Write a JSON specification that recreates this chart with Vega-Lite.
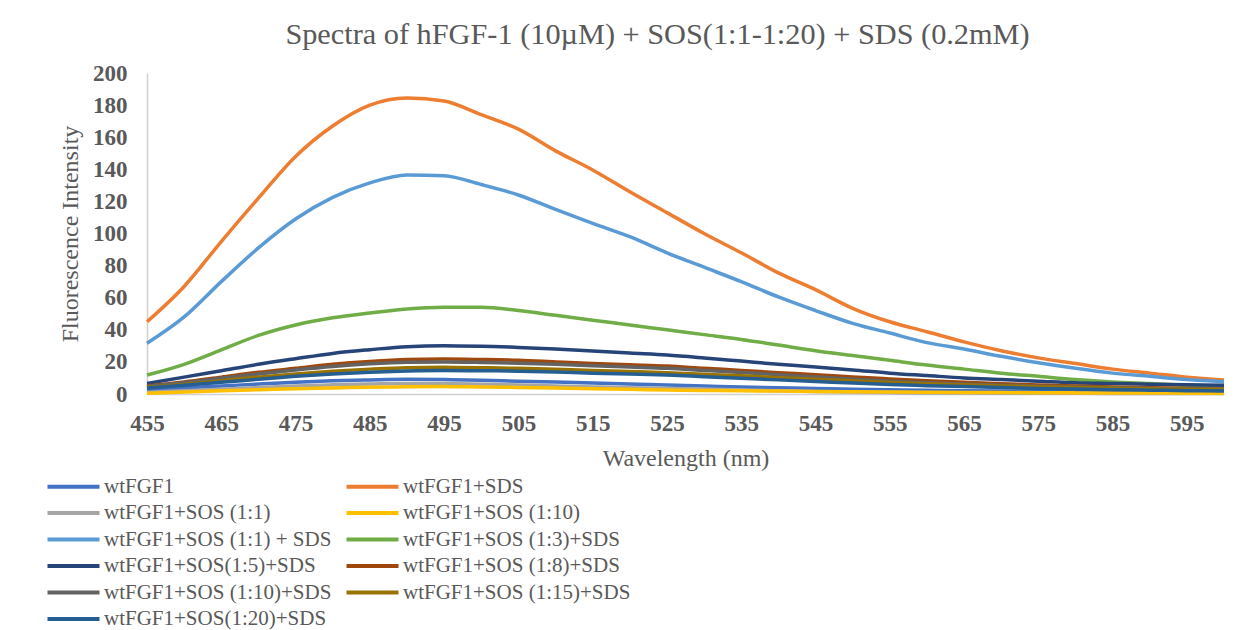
{
  "$schema": "https://vega.github.io/schema/vega-lite/v6.json",
  "width": 1077,
  "height": 321,
  "autosize": {"type": "none"},
  "padding": {"left": 147, "top": 73, "right": 20, "bottom": 236},
  "background": "white",
  "title": {
    "text": "Spectra of hFGF-1 (10µM) + SOS(1:1-1:20) + SDS (0.2mM)",
    "font": "Liberation Serif",
    "fontSize": 30.3,
    "fontWeight": "normal",
    "color": "#595959",
    "anchor": "middle",
    "frame": "group",
    "dx": -28,
    "offset": 12
  },
  "config": {"view": {"stroke": null}, "font": "Liberation Serif"},
  "data": {
    "values": [
      {"s":"wtFGF1","nm":455,"v":2.5},{"s":"wtFGF1","nm":460,"v":3.8},{"s":"wtFGF1","nm":465,"v":5},{"s":"wtFGF1","nm":470,"v":6.2},{"s":"wtFGF1","nm":475,"v":7.3},{"s":"wtFGF1","nm":480,"v":8.2},{"s":"wtFGF1","nm":485,"v":8.8},{"s":"wtFGF1","nm":490,"v":9.2},{"s":"wtFGF1","nm":495,"v":9},{"s":"wtFGF1","nm":500,"v":8.6},{"s":"wtFGF1","nm":505,"v":8},{"s":"wtFGF1","nm":510,"v":7.4},{"s":"wtFGF1","nm":515,"v":6.8},{"s":"wtFGF1","nm":520,"v":6.2},{"s":"wtFGF1","nm":525,"v":5.6},{"s":"wtFGF1","nm":530,"v":5},{"s":"wtFGF1","nm":535,"v":4.4},{"s":"wtFGF1","nm":540,"v":3.9},{"s":"wtFGF1","nm":545,"v":3.4},{"s":"wtFGF1","nm":550,"v":3},{"s":"wtFGF1","nm":555,"v":2.6},{"s":"wtFGF1","nm":560,"v":2.3},{"s":"wtFGF1","nm":565,"v":2},{"s":"wtFGF1","nm":570,"v":1.8},{"s":"wtFGF1","nm":575,"v":1.6},{"s":"wtFGF1","nm":580,"v":1.4},{"s":"wtFGF1","nm":585,"v":1.3},{"s":"wtFGF1","nm":590,"v":1.2},{"s":"wtFGF1","nm":595,"v":1.1},{"s":"wtFGF1","nm":600,"v":1},
      {"s":"wtFGF1+SDS","nm":455,"v":45},{"s":"wtFGF1+SDS","nm":460,"v":67},{"s":"wtFGF1+SDS","nm":465,"v":95},{"s":"wtFGF1+SDS","nm":470,"v":122},{"s":"wtFGF1+SDS","nm":475,"v":148},{"s":"wtFGF1+SDS","nm":480,"v":167},{"s":"wtFGF1+SDS","nm":485,"v":180},{"s":"wtFGF1+SDS","nm":490,"v":184.5},{"s":"wtFGF1+SDS","nm":495,"v":182.5},{"s":"wtFGF1+SDS","nm":500,"v":174},{"s":"wtFGF1+SDS","nm":505,"v":165},{"s":"wtFGF1+SDS","nm":510,"v":151.5},{"s":"wtFGF1+SDS","nm":515,"v":139.6},{"s":"wtFGF1+SDS","nm":520,"v":126},{"s":"wtFGF1+SDS","nm":525,"v":113},{"s":"wtFGF1+SDS","nm":530,"v":100},{"s":"wtFGF1+SDS","nm":535,"v":88},{"s":"wtFGF1+SDS","nm":540,"v":75.5},{"s":"wtFGF1+SDS","nm":545,"v":65},{"s":"wtFGF1+SDS","nm":550,"v":53.4},{"s":"wtFGF1+SDS","nm":555,"v":45},{"s":"wtFGF1+SDS","nm":560,"v":38.8},{"s":"wtFGF1+SDS","nm":565,"v":32.5},{"s":"wtFGF1+SDS","nm":570,"v":27},{"s":"wtFGF1+SDS","nm":575,"v":22.5},{"s":"wtFGF1+SDS","nm":580,"v":19},{"s":"wtFGF1+SDS","nm":585,"v":15.5},{"s":"wtFGF1+SDS","nm":590,"v":13},{"s":"wtFGF1+SDS","nm":595,"v":10.5},{"s":"wtFGF1+SDS","nm":600,"v":8.7},
      {"s":"wtFGF1+SOS (1:1)","nm":455,"v":1},{"s":"wtFGF1+SOS (1:1)","nm":460,"v":2},{"s":"wtFGF1+SOS (1:1)","nm":465,"v":3},{"s":"wtFGF1+SOS (1:1)","nm":470,"v":4},{"s":"wtFGF1+SOS (1:1)","nm":475,"v":5},{"s":"wtFGF1+SOS (1:1)","nm":480,"v":5.7},{"s":"wtFGF1+SOS (1:1)","nm":485,"v":6.2},{"s":"wtFGF1+SOS (1:1)","nm":490,"v":6.6},{"s":"wtFGF1+SOS (1:1)","nm":495,"v":6.5},{"s":"wtFGF1+SOS (1:1)","nm":500,"v":6.1},{"s":"wtFGF1+SOS (1:1)","nm":505,"v":5.6},{"s":"wtFGF1+SOS (1:1)","nm":510,"v":5},{"s":"wtFGF1+SOS (1:1)","nm":515,"v":4.4},{"s":"wtFGF1+SOS (1:1)","nm":520,"v":3.9},{"s":"wtFGF1+SOS (1:1)","nm":525,"v":3.5},{"s":"wtFGF1+SOS (1:1)","nm":530,"v":3},{"s":"wtFGF1+SOS (1:1)","nm":535,"v":2.5},{"s":"wtFGF1+SOS (1:1)","nm":540,"v":2},{"s":"wtFGF1+SOS (1:1)","nm":545,"v":1.6},{"s":"wtFGF1+SOS (1:1)","nm":550,"v":1.2},{"s":"wtFGF1+SOS (1:1)","nm":555,"v":0.9},{"s":"wtFGF1+SOS (1:1)","nm":560,"v":0.7},{"s":"wtFGF1+SOS (1:1)","nm":565,"v":0.6},{"s":"wtFGF1+SOS (1:1)","nm":570,"v":0.5},{"s":"wtFGF1+SOS (1:1)","nm":575,"v":0.4},{"s":"wtFGF1+SOS (1:1)","nm":580,"v":0.4},{"s":"wtFGF1+SOS (1:1)","nm":585,"v":0.3},{"s":"wtFGF1+SOS (1:1)","nm":590,"v":0.3},{"s":"wtFGF1+SOS (1:1)","nm":595,"v":0.3},{"s":"wtFGF1+SOS (1:1)","nm":600,"v":0.3},
      {"s":"wtFGF1+SOS (1:10)","nm":455,"v":0.4},{"s":"wtFGF1+SOS (1:10)","nm":460,"v":1.2},{"s":"wtFGF1+SOS (1:10)","nm":465,"v":2},{"s":"wtFGF1+SOS (1:10)","nm":470,"v":2.7},{"s":"wtFGF1+SOS (1:10)","nm":475,"v":3.3},{"s":"wtFGF1+SOS (1:10)","nm":480,"v":3.8},{"s":"wtFGF1+SOS (1:10)","nm":485,"v":4.2},{"s":"wtFGF1+SOS (1:10)","nm":490,"v":4.5},{"s":"wtFGF1+SOS (1:10)","nm":495,"v":4.6},{"s":"wtFGF1+SOS (1:10)","nm":500,"v":4.4},{"s":"wtFGF1+SOS (1:10)","nm":505,"v":4.1},{"s":"wtFGF1+SOS (1:10)","nm":510,"v":3.7},{"s":"wtFGF1+SOS (1:10)","nm":515,"v":3.3},{"s":"wtFGF1+SOS (1:10)","nm":520,"v":2.9},{"s":"wtFGF1+SOS (1:10)","nm":525,"v":2.5},{"s":"wtFGF1+SOS (1:10)","nm":530,"v":2.2},{"s":"wtFGF1+SOS (1:10)","nm":535,"v":2},{"s":"wtFGF1+SOS (1:10)","nm":540,"v":1.8},{"s":"wtFGF1+SOS (1:10)","nm":545,"v":1.6},{"s":"wtFGF1+SOS (1:10)","nm":550,"v":1.4},{"s":"wtFGF1+SOS (1:10)","nm":555,"v":1.2},{"s":"wtFGF1+SOS (1:10)","nm":560,"v":1.1},{"s":"wtFGF1+SOS (1:10)","nm":565,"v":1},{"s":"wtFGF1+SOS (1:10)","nm":570,"v":0.9},{"s":"wtFGF1+SOS (1:10)","nm":575,"v":0.8},{"s":"wtFGF1+SOS (1:10)","nm":580,"v":0.7},{"s":"wtFGF1+SOS (1:10)","nm":585,"v":0.6},{"s":"wtFGF1+SOS (1:10)","nm":590,"v":0.6},{"s":"wtFGF1+SOS (1:10)","nm":595,"v":0.5},{"s":"wtFGF1+SOS (1:10)","nm":600,"v":0.5},
      {"s":"wtFGF1+SOS (1:1) + SDS","nm":455,"v":31.6},{"s":"wtFGF1+SOS (1:1) + SDS","nm":460,"v":48},{"s":"wtFGF1+SOS (1:1) + SDS","nm":465,"v":70},{"s":"wtFGF1+SOS (1:1) + SDS","nm":470,"v":91},{"s":"wtFGF1+SOS (1:1) + SDS","nm":475,"v":109},{"s":"wtFGF1+SOS (1:1) + SDS","nm":480,"v":122.5},{"s":"wtFGF1+SOS (1:1) + SDS","nm":485,"v":131.5},{"s":"wtFGF1+SOS (1:1) + SDS","nm":490,"v":136.5},{"s":"wtFGF1+SOS (1:1) + SDS","nm":495,"v":136},{"s":"wtFGF1+SOS (1:1) + SDS","nm":500,"v":130.5},{"s":"wtFGF1+SOS (1:1) + SDS","nm":505,"v":124},{"s":"wtFGF1+SOS (1:1) + SDS","nm":510,"v":115},{"s":"wtFGF1+SOS (1:1) + SDS","nm":515,"v":106.3},{"s":"wtFGF1+SOS (1:1) + SDS","nm":520,"v":98},{"s":"wtFGF1+SOS (1:1) + SDS","nm":525,"v":88},{"s":"wtFGF1+SOS (1:1) + SDS","nm":530,"v":79},{"s":"wtFGF1+SOS (1:1) + SDS","nm":535,"v":70},{"s":"wtFGF1+SOS (1:1) + SDS","nm":540,"v":60.5},{"s":"wtFGF1+SOS (1:1) + SDS","nm":545,"v":52},{"s":"wtFGF1+SOS (1:1) + SDS","nm":550,"v":44},{"s":"wtFGF1+SOS (1:1) + SDS","nm":555,"v":38},{"s":"wtFGF1+SOS (1:1) + SDS","nm":560,"v":32},{"s":"wtFGF1+SOS (1:1) + SDS","nm":565,"v":28},{"s":"wtFGF1+SOS (1:1) + SDS","nm":570,"v":23.5},{"s":"wtFGF1+SOS (1:1) + SDS","nm":575,"v":19.5},{"s":"wtFGF1+SOS (1:1) + SDS","nm":580,"v":16},{"s":"wtFGF1+SOS (1:1) + SDS","nm":585,"v":13},{"s":"wtFGF1+SOS (1:1) + SDS","nm":590,"v":11},{"s":"wtFGF1+SOS (1:1) + SDS","nm":595,"v":9},{"s":"wtFGF1+SOS (1:1) + SDS","nm":600,"v":7.7},
      {"s":"wtFGF1+SOS (1:3)+SDS","nm":455,"v":11.8},{"s":"wtFGF1+SOS (1:3)+SDS","nm":460,"v":18.5},{"s":"wtFGF1+SOS (1:3)+SDS","nm":465,"v":27.5},{"s":"wtFGF1+SOS (1:3)+SDS","nm":470,"v":36.5},{"s":"wtFGF1+SOS (1:3)+SDS","nm":475,"v":43},{"s":"wtFGF1+SOS (1:3)+SDS","nm":480,"v":47.5},{"s":"wtFGF1+SOS (1:3)+SDS","nm":485,"v":50.5},{"s":"wtFGF1+SOS (1:3)+SDS","nm":490,"v":53},{"s":"wtFGF1+SOS (1:3)+SDS","nm":495,"v":54},{"s":"wtFGF1+SOS (1:3)+SDS","nm":500,"v":54},{"s":"wtFGF1+SOS (1:3)+SDS","nm":505,"v":52},{"s":"wtFGF1+SOS (1:3)+SDS","nm":510,"v":49},{"s":"wtFGF1+SOS (1:3)+SDS","nm":515,"v":46},{"s":"wtFGF1+SOS (1:3)+SDS","nm":520,"v":43},{"s":"wtFGF1+SOS (1:3)+SDS","nm":525,"v":40},{"s":"wtFGF1+SOS (1:3)+SDS","nm":530,"v":37},{"s":"wtFGF1+SOS (1:3)+SDS","nm":535,"v":34},{"s":"wtFGF1+SOS (1:3)+SDS","nm":540,"v":30.5},{"s":"wtFGF1+SOS (1:3)+SDS","nm":545,"v":27},{"s":"wtFGF1+SOS (1:3)+SDS","nm":550,"v":24},{"s":"wtFGF1+SOS (1:3)+SDS","nm":555,"v":21},{"s":"wtFGF1+SOS (1:3)+SDS","nm":560,"v":18},{"s":"wtFGF1+SOS (1:3)+SDS","nm":565,"v":15.5},{"s":"wtFGF1+SOS (1:3)+SDS","nm":570,"v":13},{"s":"wtFGF1+SOS (1:3)+SDS","nm":575,"v":11},{"s":"wtFGF1+SOS (1:3)+SDS","nm":580,"v":9},{"s":"wtFGF1+SOS (1:3)+SDS","nm":585,"v":7.5},{"s":"wtFGF1+SOS (1:3)+SDS","nm":590,"v":6.5},{"s":"wtFGF1+SOS (1:3)+SDS","nm":595,"v":5.5},{"s":"wtFGF1+SOS (1:3)+SDS","nm":600,"v":4.8},
      {"s":"wtFGF1+SOS(1:5)+SDS","nm":455,"v":6.6},{"s":"wtFGF1+SOS(1:5)+SDS","nm":460,"v":10.5},{"s":"wtFGF1+SOS(1:5)+SDS","nm":465,"v":14.5},{"s":"wtFGF1+SOS(1:5)+SDS","nm":470,"v":18.5},{"s":"wtFGF1+SOS(1:5)+SDS","nm":475,"v":22},{"s":"wtFGF1+SOS(1:5)+SDS","nm":480,"v":25.3},{"s":"wtFGF1+SOS(1:5)+SDS","nm":485,"v":27.6},{"s":"wtFGF1+SOS(1:5)+SDS","nm":490,"v":29.5},{"s":"wtFGF1+SOS(1:5)+SDS","nm":495,"v":30},{"s":"wtFGF1+SOS(1:5)+SDS","nm":500,"v":29.8},{"s":"wtFGF1+SOS(1:5)+SDS","nm":505,"v":29},{"s":"wtFGF1+SOS(1:5)+SDS","nm":510,"v":28},{"s":"wtFGF1+SOS(1:5)+SDS","nm":515,"v":26.8},{"s":"wtFGF1+SOS(1:5)+SDS","nm":520,"v":25.5},{"s":"wtFGF1+SOS(1:5)+SDS","nm":525,"v":24.3},{"s":"wtFGF1+SOS(1:5)+SDS","nm":530,"v":22.5},{"s":"wtFGF1+SOS(1:5)+SDS","nm":535,"v":20.5},{"s":"wtFGF1+SOS(1:5)+SDS","nm":540,"v":18.5},{"s":"wtFGF1+SOS(1:5)+SDS","nm":545,"v":16.8},{"s":"wtFGF1+SOS(1:5)+SDS","nm":550,"v":15},{"s":"wtFGF1+SOS(1:5)+SDS","nm":555,"v":13},{"s":"wtFGF1+SOS(1:5)+SDS","nm":560,"v":11.5},{"s":"wtFGF1+SOS(1:5)+SDS","nm":565,"v":10},{"s":"wtFGF1+SOS(1:5)+SDS","nm":570,"v":9},{"s":"wtFGF1+SOS(1:5)+SDS","nm":575,"v":8},{"s":"wtFGF1+SOS(1:5)+SDS","nm":580,"v":7},{"s":"wtFGF1+SOS(1:5)+SDS","nm":585,"v":6.5},{"s":"wtFGF1+SOS(1:5)+SDS","nm":590,"v":6},{"s":"wtFGF1+SOS(1:5)+SDS","nm":595,"v":5.7},{"s":"wtFGF1+SOS(1:5)+SDS","nm":600,"v":5.5},
      {"s":"wtFGF1+SOS (1:8)+SDS","nm":455,"v":5},{"s":"wtFGF1+SOS (1:8)+SDS","nm":460,"v":7.5},{"s":"wtFGF1+SOS (1:8)+SDS","nm":465,"v":10.5},{"s":"wtFGF1+SOS (1:8)+SDS","nm":470,"v":13.5},{"s":"wtFGF1+SOS (1:8)+SDS","nm":475,"v":16},{"s":"wtFGF1+SOS (1:8)+SDS","nm":480,"v":18.5},{"s":"wtFGF1+SOS (1:8)+SDS","nm":485,"v":20.3},{"s":"wtFGF1+SOS (1:8)+SDS","nm":490,"v":21.5},{"s":"wtFGF1+SOS (1:8)+SDS","nm":495,"v":21.8},{"s":"wtFGF1+SOS (1:8)+SDS","nm":500,"v":21.5},{"s":"wtFGF1+SOS (1:8)+SDS","nm":505,"v":21},{"s":"wtFGF1+SOS (1:8)+SDS","nm":510,"v":20},{"s":"wtFGF1+SOS (1:8)+SDS","nm":515,"v":19},{"s":"wtFGF1+SOS (1:8)+SDS","nm":520,"v":18.2},{"s":"wtFGF1+SOS (1:8)+SDS","nm":525,"v":17.4},{"s":"wtFGF1+SOS (1:8)+SDS","nm":530,"v":16},{"s":"wtFGF1+SOS (1:8)+SDS","nm":535,"v":14.7},{"s":"wtFGF1+SOS (1:8)+SDS","nm":540,"v":13.3},{"s":"wtFGF1+SOS (1:8)+SDS","nm":545,"v":12},{"s":"wtFGF1+SOS (1:8)+SDS","nm":550,"v":10.6},{"s":"wtFGF1+SOS (1:8)+SDS","nm":555,"v":9.4},{"s":"wtFGF1+SOS (1:8)+SDS","nm":560,"v":8.3},{"s":"wtFGF1+SOS (1:8)+SDS","nm":565,"v":7.3},{"s":"wtFGF1+SOS (1:8)+SDS","nm":570,"v":6.4},{"s":"wtFGF1+SOS (1:8)+SDS","nm":575,"v":5.6},{"s":"wtFGF1+SOS (1:8)+SDS","nm":580,"v":5},{"s":"wtFGF1+SOS (1:8)+SDS","nm":585,"v":4.4},{"s":"wtFGF1+SOS (1:8)+SDS","nm":590,"v":3.9},{"s":"wtFGF1+SOS (1:8)+SDS","nm":595,"v":3.4},{"s":"wtFGF1+SOS (1:8)+SDS","nm":600,"v":3},
      {"s":"wtFGF1+SOS (1:10)+SDS","nm":455,"v":4.8},{"s":"wtFGF1+SOS (1:10)+SDS","nm":460,"v":7},{"s":"wtFGF1+SOS (1:10)+SDS","nm":465,"v":9.8},{"s":"wtFGF1+SOS (1:10)+SDS","nm":470,"v":12.5},{"s":"wtFGF1+SOS (1:10)+SDS","nm":475,"v":15},{"s":"wtFGF1+SOS (1:10)+SDS","nm":480,"v":17.2},{"s":"wtFGF1+SOS (1:10)+SDS","nm":485,"v":18.8},{"s":"wtFGF1+SOS (1:10)+SDS","nm":490,"v":19.8},{"s":"wtFGF1+SOS (1:10)+SDS","nm":495,"v":20},{"s":"wtFGF1+SOS (1:10)+SDS","nm":500,"v":19.7},{"s":"wtFGF1+SOS (1:10)+SDS","nm":505,"v":19.2},{"s":"wtFGF1+SOS (1:10)+SDS","nm":510,"v":18.5},{"s":"wtFGF1+SOS (1:10)+SDS","nm":515,"v":17.6},{"s":"wtFGF1+SOS (1:10)+SDS","nm":520,"v":16.8},{"s":"wtFGF1+SOS (1:10)+SDS","nm":525,"v":16},{"s":"wtFGF1+SOS (1:10)+SDS","nm":530,"v":14.7},{"s":"wtFGF1+SOS (1:10)+SDS","nm":535,"v":13.4},{"s":"wtFGF1+SOS (1:10)+SDS","nm":540,"v":12},{"s":"wtFGF1+SOS (1:10)+SDS","nm":545,"v":10.6},{"s":"wtFGF1+SOS (1:10)+SDS","nm":550,"v":9.2},{"s":"wtFGF1+SOS (1:10)+SDS","nm":555,"v":8},{"s":"wtFGF1+SOS (1:10)+SDS","nm":560,"v":7},{"s":"wtFGF1+SOS (1:10)+SDS","nm":565,"v":6.2},{"s":"wtFGF1+SOS (1:10)+SDS","nm":570,"v":5.5},{"s":"wtFGF1+SOS (1:10)+SDS","nm":575,"v":4.9},{"s":"wtFGF1+SOS (1:10)+SDS","nm":580,"v":4.4},{"s":"wtFGF1+SOS (1:10)+SDS","nm":585,"v":3.9},{"s":"wtFGF1+SOS (1:10)+SDS","nm":590,"v":3.5},{"s":"wtFGF1+SOS (1:10)+SDS","nm":595,"v":3.1},{"s":"wtFGF1+SOS (1:10)+SDS","nm":600,"v":2.8},
      {"s":"wtFGF1+SOS (1:15)+SDS","nm":455,"v":4.2},{"s":"wtFGF1+SOS (1:15)+SDS","nm":460,"v":6},{"s":"wtFGF1+SOS (1:15)+SDS","nm":465,"v":8.3},{"s":"wtFGF1+SOS (1:15)+SDS","nm":470,"v":10.5},{"s":"wtFGF1+SOS (1:15)+SDS","nm":475,"v":12.5},{"s":"wtFGF1+SOS (1:15)+SDS","nm":480,"v":14.2},{"s":"wtFGF1+SOS (1:15)+SDS","nm":485,"v":15.5},{"s":"wtFGF1+SOS (1:15)+SDS","nm":490,"v":16.4},{"s":"wtFGF1+SOS (1:15)+SDS","nm":495,"v":16.6},{"s":"wtFGF1+SOS (1:15)+SDS","nm":500,"v":16.4},{"s":"wtFGF1+SOS (1:15)+SDS","nm":505,"v":16},{"s":"wtFGF1+SOS (1:15)+SDS","nm":510,"v":15.4},{"s":"wtFGF1+SOS (1:15)+SDS","nm":515,"v":14.7},{"s":"wtFGF1+SOS (1:15)+SDS","nm":520,"v":14},{"s":"wtFGF1+SOS (1:15)+SDS","nm":525,"v":13.3},{"s":"wtFGF1+SOS (1:15)+SDS","nm":530,"v":12.3},{"s":"wtFGF1+SOS (1:15)+SDS","nm":535,"v":11.3},{"s":"wtFGF1+SOS (1:15)+SDS","nm":540,"v":10.2},{"s":"wtFGF1+SOS (1:15)+SDS","nm":545,"v":9.2},{"s":"wtFGF1+SOS (1:15)+SDS","nm":550,"v":8.2},{"s":"wtFGF1+SOS (1:15)+SDS","nm":555,"v":7.2},{"s":"wtFGF1+SOS (1:15)+SDS","nm":560,"v":6.4},{"s":"wtFGF1+SOS (1:15)+SDS","nm":565,"v":5.7},{"s":"wtFGF1+SOS (1:15)+SDS","nm":570,"v":5},{"s":"wtFGF1+SOS (1:15)+SDS","nm":575,"v":4.5},{"s":"wtFGF1+SOS (1:15)+SDS","nm":580,"v":4},{"s":"wtFGF1+SOS (1:15)+SDS","nm":585,"v":3.6},{"s":"wtFGF1+SOS (1:15)+SDS","nm":590,"v":3.2},{"s":"wtFGF1+SOS (1:15)+SDS","nm":595,"v":2.9},{"s":"wtFGF1+SOS (1:15)+SDS","nm":600,"v":2.6},
      {"s":"wtFGF1+SOS(1:20)+SDS","nm":455,"v":3.8},{"s":"wtFGF1+SOS(1:20)+SDS","nm":460,"v":5.5},{"s":"wtFGF1+SOS(1:20)+SDS","nm":465,"v":7.3},{"s":"wtFGF1+SOS(1:20)+SDS","nm":470,"v":9.2},{"s":"wtFGF1+SOS(1:20)+SDS","nm":475,"v":11},{"s":"wtFGF1+SOS(1:20)+SDS","nm":480,"v":12.5},{"s":"wtFGF1+SOS(1:20)+SDS","nm":485,"v":13.6},{"s":"wtFGF1+SOS(1:20)+SDS","nm":490,"v":14.3},{"s":"wtFGF1+SOS(1:20)+SDS","nm":495,"v":14.6},{"s":"wtFGF1+SOS(1:20)+SDS","nm":500,"v":14.5},{"s":"wtFGF1+SOS(1:20)+SDS","nm":505,"v":14.2},{"s":"wtFGF1+SOS(1:20)+SDS","nm":510,"v":13.7},{"s":"wtFGF1+SOS(1:20)+SDS","nm":515,"v":13},{"s":"wtFGF1+SOS(1:20)+SDS","nm":520,"v":12.4},{"s":"wtFGF1+SOS(1:20)+SDS","nm":525,"v":11.8},{"s":"wtFGF1+SOS(1:20)+SDS","nm":530,"v":10.8},{"s":"wtFGF1+SOS(1:20)+SDS","nm":535,"v":9.8},{"s":"wtFGF1+SOS(1:20)+SDS","nm":540,"v":8.8},{"s":"wtFGF1+SOS(1:20)+SDS","nm":545,"v":7.8},{"s":"wtFGF1+SOS(1:20)+SDS","nm":550,"v":6.8},{"s":"wtFGF1+SOS(1:20)+SDS","nm":555,"v":5.9},{"s":"wtFGF1+SOS(1:20)+SDS","nm":560,"v":5.2},{"s":"wtFGF1+SOS(1:20)+SDS","nm":565,"v":4.6},{"s":"wtFGF1+SOS(1:20)+SDS","nm":570,"v":4},{"s":"wtFGF1+SOS(1:20)+SDS","nm":575,"v":3.5},{"s":"wtFGF1+SOS(1:20)+SDS","nm":580,"v":3.1},{"s":"wtFGF1+SOS(1:20)+SDS","nm":585,"v":2.7},{"s":"wtFGF1+SOS(1:20)+SDS","nm":590,"v":2.4},{"s":"wtFGF1+SOS(1:20)+SDS","nm":595,"v":2.1},{"s":"wtFGF1+SOS(1:20)+SDS","nm":600,"v":1.9}
    ]
  },
  "mark": {"type": "line", "strokeWidth": 3.5, "interpolate": "monotone"},
  "encoding": {
    "x": {
      "field": "nm",
      "type": "quantitative",
      "scale": {"domain": [455, 600], "nice": false, "zero": false},
      "axis": {
        "values": [455, 465, 475, 485, 495, 505, 515, 525, 535, 545, 555, 565, 575, 585, 595],
        "title": "Wavelength (nm)",
        "titleFont": "Liberation Serif",
        "titleFontSize": 24,
        "titleFontWeight": "normal",
        "titleColor": "#595959",
        "titlePadding": 11,
        "labelFont": "Liberation Serif",
        "labelFontSize": 23,
        "labelFontWeight": "bold",
        "labelColor": "#595959",
        "labelPadding": 18,
        "labelFlush": false,
        "labelOverlap": false,
        "ticks": false,
        "tickSize": 0,
        "grid": false,
        "domainColor": "#D0D0D0",
        "domainWidth": 1.5
      }
    },
    "y": {
      "field": "v",
      "type": "quantitative",
      "scale": {"domain": [0, 200], "nice": false},
      "axis": {
        "values": [0, 20, 40, 60, 80, 100, 120, 140, 160, 180, 200],
        "title": "Fluorescence Intensity",
        "titleFont": "Liberation Serif",
        "titleFontSize": 24,
        "titleFontWeight": "normal",
        "titleColor": "#595959",
        "titlePadding": 10,
        "labelFont": "Liberation Serif",
        "labelFontSize": 23,
        "labelFontWeight": "bold",
        "labelColor": "#595959",
        "labelPadding": 20,
        "labelOverlap": false,
        "ticks": false,
        "tickSize": 0,
        "grid": false,
        "domainColor": "#D0D0D0",
        "domainWidth": 1.5
      }
    },
    "color": {
      "field": "s",
      "type": "nominal",
      "scale": {
        "domain": ["wtFGF1", "wtFGF1+SDS", "wtFGF1+SOS (1:1)", "wtFGF1+SOS (1:10)", "wtFGF1+SOS (1:1) + SDS", "wtFGF1+SOS (1:3)+SDS", "wtFGF1+SOS(1:5)+SDS", "wtFGF1+SOS (1:8)+SDS", "wtFGF1+SOS (1:10)+SDS", "wtFGF1+SOS (1:15)+SDS", "wtFGF1+SOS(1:20)+SDS"],
        "range": ["#4472C4", "#ED7D31", "#A5A5A5", "#FFC000", "#5B9BD5", "#70AD47", "#264478", "#9E480E", "#636363", "#997300", "#255E91"]
      },
      "legend": {
        "orient": "none",
        "legendX": -105,
        "legendY": 403,
        "columns": 2,
        "direction": "horizontal",
        "title": null,
        "padding": 0,
        "symbolType": "M-1,0H9.4",
        "symbolSize": 100,
        "symbolStrokeWidth": 4,
        "labelFont": "Liberation Serif",
        "labelFontSize": 21,
        "labelColor": "#595959",
        "labelOffset": 41,
        "labelLimit": 400,
        "rowPadding": 4.5,
        "columnPadding": 6
      }
    }
  }
}
